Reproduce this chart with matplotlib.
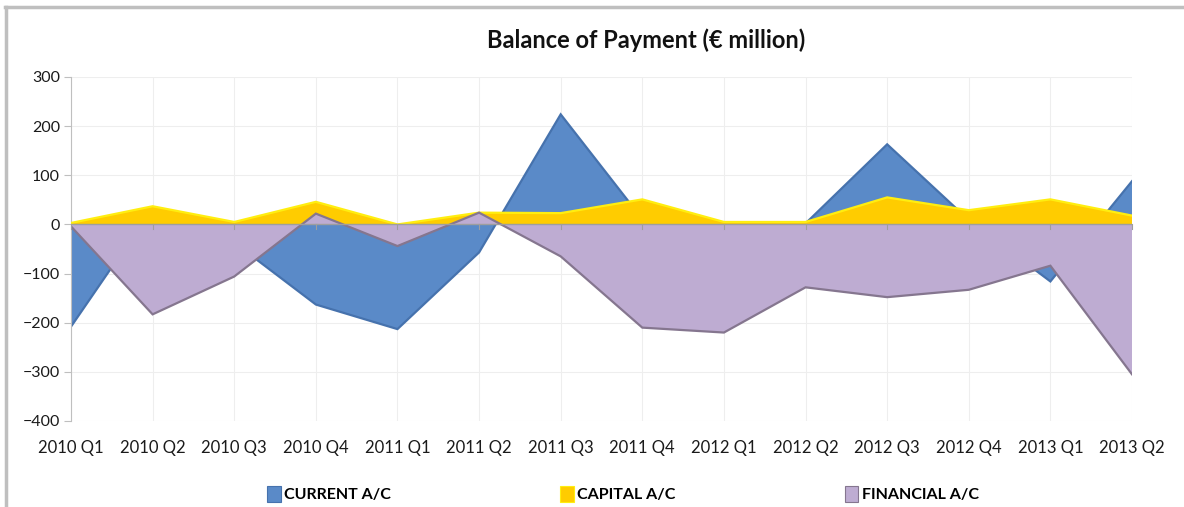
import matplotlib
matplotlib.use("Agg")
import matplotlib.pyplot as plt
from matplotlib.patches import Patch
from matplotlib.lines import Line2D
import numpy as np

quarters = ["2010 Q1", "2010 Q2", "2010 Q3", "2010 Q4", "2011 Q1", "2011 Q2", "2011 Q3",
            "2011 Q4", "2012 Q1", "2012 Q2", "2012 Q3", "2012 Q4", "2013 Q1", "2013 Q2"]
current_ac = [-208, 34, -37, -163, -213, -57, 224, 11, -5, 2, 163, 9, -116, 88]
capital_ac = [3, 37, 5, 46, 0, 24, 23, 51, 5, 5, 55, 29, 51, 18]
financial_ac = [-4, -183, -106, 22, -44, 24, -65, -210, -220, -128, -148, -133, -84, -305]
y_ticks = [300, 200, 100, 0, -100, -200, -300, -400]

plt.rcParams['font.family'] = ['Lato', 'DejaVu Sans']

W, H = 1184, 507
fig = plt.figure(figsize=(W / 100, H / 100), dpi=100)
fig.patch.set_facecolor("white")

# outer chart border (top and left visible)
fig.add_artist(Line2D([6 / W, 6 / W], [0, 1 - 7 / H], transform=fig.transFigure,
                      color="#BFBFBF", lw=2.5))
fig.add_artist(Line2D([5 / W, 1], [1 - 7 / H, 1 - 7 / H], transform=fig.transFigure,
                      color="#BFBFBF", lw=2.5))

ax = fig.add_axes([71 / W, 1 - 421 / H, (1132 - 71) / W, (421 - 77) / H])
x = np.arange(len(quarters))

series = [
    (current_ac, "#5A8AC8", "#4672AD", "CURRENT A/C", 2),
    (capital_ac, "#FFCC00", "#FFEE10", "CAPITAL A/C", 3),
    (financial_ac, "#BEACD2", "#85768F", "FINANCIAL A/C", 4),
]
handles = []
for vals, fc, ec, label, z in series:
    ax.fill_between(x, 0, vals, facecolor=fc, edgecolor="none", zorder=z)
    ax.plot(x, vals, color=ec, lw=1.6, zorder=z + 0.1, solid_joinstyle="miter")
    handles.append(Patch(facecolor=fc, edgecolor=ec, lw=0.8, label=label))

ax.plot(x, [0] * len(x), color="#9E9E9E", lw=1.0, zorder=5)

ax.set_xlim(0, len(x) - 1)
ax.set_ylim(-400, 300)
ax.set_yticks(y_ticks)
ax.set_xticks(x)
ax.set_xticklabels(quarters)
ax.grid(True, color="#EEEEEE", lw=0.8, zorder=0)
ax.set_axisbelow(True)
for s in ["top", "right", "bottom"]:
    ax.spines[s].set_visible(False)
ax.spines["left"].set_color("#BFBFBF")
ax.tick_params(axis="y", length=5, color="#BFBFBF", labelsize=11.5, pad=3, labelcolor="#1A1A1A")
ax.tick_params(axis="x", length=0, labelsize=12, pad=14, labelcolor="#1A1A1A")
for xi in x:
    ax.plot([xi, xi], [0, -9], color="#9E9E9E", lw=0.8, zorder=5, clip_on=False)

fig.text(646 / W, 1 - 40 / H, "Balance of Payment (€ million)", ha="center", va="center",
         fontsize=17, fontweight="bold", color="#111111")

leg = fig.legend(handles=handles, loc="center", bbox_to_anchor=(623 / W, 1 - 494 / H),
                 ncol=3, frameon=False, handlelength=0.85, handleheight=1.25,
                 handletextpad=0.2, columnspacing=10.6,
                 prop={"weight": "bold", "size": 11.5})

fig.savefig("out.png", dpi=100, facecolor="white")
